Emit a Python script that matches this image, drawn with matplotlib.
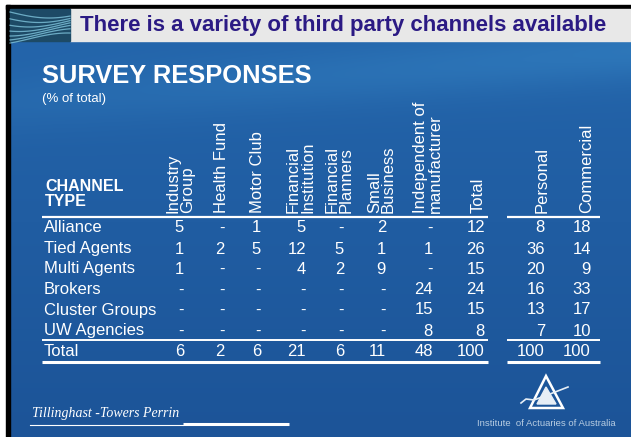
import numpy as np
import matplotlib.pyplot as plt
from matplotlib.patches import Rectangle, Polygon

# table data (None = "-")
channel_types = ["Alliance", "Tied Agents", "Multi Agents", "Brokers",
                 "Cluster Groups", "UW Agencies"]
third_party_cols = ["Industry\nGroup", "Health Fund", "Motor Club",
                    "Financial\nInstitution", "Financial\nPlanners",
                    "Small\nBusiness", "Independent of\nmanufacturer", "Total"]
line_cols = ["Personal", "Commercial"]

alliance = [5, None, 1, 5, None, 2, None, 12, 8, 18]
tied_agents = [1, 2, 5, 12, 5, 1, 1, 26, 36, 14]
multi_agents = [1, None, None, 4, 2, 9, None, 15, 20, 9]
brokers = [None, None, None, None, None, None, 24, 24, 16, 33]
cluster_groups = [None, None, None, None, None, None, 15, 15, 13, 17]
uw_agencies = [None, None, None, None, None, None, 8, 8, 7, 10]
totals = [6, 2, 6, 21, 6, 11, 48, 100, 100, 100]

rows = [alliance, tied_agents, multi_agents, brokers, cluster_groups, uw_agencies]

# layout in pixel coords
W, H = 631, 437
head_x = [180.5, 222, 258, 300.5, 339.5, 381.5, 428, 478, 542, 587]
num_right = [184, 225, 261, 306, 344, 386, 433, 485, 545, 591]
row_y = [228, 249, 269, 290, 310, 331]
total_y = 351
font = "Liberation Sans"
fs = 12

fig = plt.figure(figsize=(W / 100, H / 100), dpi=100)
ax = fig.add_axes([0, 0, 1, 1])
ax.set_xlim(0, W)
ax.set_ylim(H, 0)
ax.axis("off")

# blue background
yy, xx = np.mgrid[0:1:200j, 0:1:300j]
r = 36 - 8 * yy
g = 102 - 18 * yy
b = 172 - 20 * yy
streak = np.exp(-((yy - 0.22 + 0.12 * xx) / 0.07) ** 2) * (0.4 + 0.6 * xx)
r = r + 10 * streak
g = g + 18 * streak
b = b + 15 * streak
bg = np.dstack([r, g, b]) / 255
ax.imshow(bg, extent=[9, W, H, 8], aspect="auto", zorder=0)

# frame
ax.add_patch(Rectangle((6, 5), W - 6, 4, color="black", zorder=1))
ax.add_patch(Rectangle((6, 5), 4, H - 5, color="black", zorder=1))

# header band
ax.add_patch(Rectangle((70, 9), W - 70, 32, color="#e8e8e8", zorder=1))
ax.add_patch(Rectangle((10, 9), 60, 32, color="#1d4a66", zorder=1))
sx = np.linspace(10, 70, 50)
for k in range(7):
    ax.plot(sx, 12 + k * 4.5 + 6 * np.sin((sx - 10) / 25 + k * 0.4),
            color="#7fc4dc", lw=0.9, alpha=0.8, zorder=2)
ax.text(80, 25, "There is a variety of third party channels available",
        fontsize=16, fontweight="bold", color="#2b1a84", family=font,
        va="center", ha="left", zorder=3)

ax.text(42, 76, "SURVEY RESPONSES", fontsize=18.4, fontweight="bold",
        color="white", family=font, va="center", ha="left")
ax.text(42, 99, "(% of total)", fontsize=9.5, color="white", family=font,
        va="center", ha="left")
ax.text(45, 194, "CHANNEL\nTYPE", fontsize=11.5, fontweight="bold",
        color="white", family=font, va="center", ha="left", linespacing=1.05)

# column headers
for x, lab in zip(head_x, third_party_cols + line_cols):
    ax.text(x, 213, lab, rotation=90, fontsize=fs, color="white",
            family=font, ha="center", va="bottom", linespacing=0.92,
            multialignment="left")

# rows
for y, name, vals in zip(row_y, channel_types, rows):
    ax.text(44, y, name, fontsize=fs, color="white", family=font,
            va="center", ha="left")
    for x, v in zip(num_right, vals):
        ax.text(x, y, "-" if v is None else str(v), fontsize=fs,
                color="white", family=font, va="center", ha="right")
ax.text(44, total_y, "Total", fontsize=fs, color="white", family=font,
        va="center", ha="left")
for x, v in zip(num_right, totals):
    ax.text(x, total_y, str(v), fontsize=fs, color="white", family=font,
            va="center", ha="right")

# rules
for x0, x1 in [(42, 488), (507, 600)]:
    ax.plot([x0, x1], [216.5, 216.5], color="white", lw=1.6, solid_capstyle="butt")
    ax.plot([x0, x1], [340, 340], color="white", lw=1.4, solid_capstyle="butt")
    ax.plot([x0, x1], [362, 362], color="white", lw=2.2, solid_capstyle="butt")

# footer
ax.text(32, 413, "Tillinghast -Towers Perrin", fontsize=10, style="italic",
        color="white", family="Liberation Serif", va="center", ha="left")
ax.plot([30, 183], [424.5, 424.5], color="white", lw=0.8)
ax.plot([183, 289], [424, 424], color="white", lw=2.2, solid_capstyle="butt")

# institute logo
ax.add_patch(Polygon([[546, 376], [530, 408], [563, 408]], closed=True,
                     fill=False, edgecolor="white", lw=1.8))
ax.add_patch(Polygon([[546, 387], [537, 404], [556, 404]], closed=True,
                     color="#e6eef6"))
ax.plot([521, 526, 534, 550, 568], [403, 399, 400, 394, 387],
        color="#e6eef6", lw=1.2)
ax.text(546, 424, "Institute  of Actuaries of Australia", fontsize=6.8,
        color="#b8cde2", family=font, va="center", ha="center")

plt.savefig("out.png", dpi=100)
